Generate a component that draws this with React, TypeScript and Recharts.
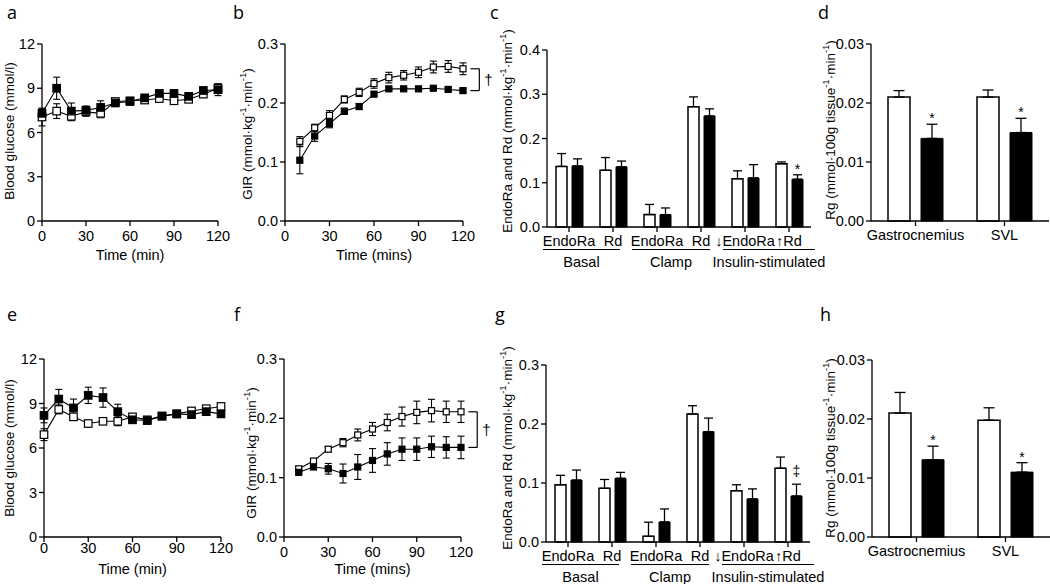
import React from 'react';
import { LineChart, Line, XAxis, YAxis, ErrorBar, BarChart, Bar, ReferenceLine, LabelList } from 'recharts';

const FONT = '"Liberation Sans", Arial, Helvetica, sans-serif';
const LETTER_FONT = '"Open Sans", "Noto Sans", sans-serif';

// ---------------- data ----------------
const TIME_GLUCOSE = [0, 10, 20, 30, 40, 50, 60, 70, 80, 90, 100, 110, 120];
const TIME_GIR = [10, 20, 30, 40, 50, 60, 70, 80, 90, 100, 110, 120];
const TIME_TICKS = [0, 30, 60, 90, 120];

// panel a (blood glucose, top)
const A_OPEN = [7.05, 7.45, 7.1, 7.4, 7.3, 8.1, 8.15, 8.2, 8.3, 8.15, 8.25, 8.6, 9.0];
const A_OPEN_ERR = [0.6, 0.5, 0.3, 0.3, 0.3, 0.2, 0.2, 0.2, 0.2, 0.2, 0.2, 0.2, 0.3];
const A_FILLED = [7.3, 9.0, 7.45, 7.5, 7.7, 8.0, 8.1, 8.35, 8.65, 8.65, 8.45, 8.85, 8.9];
const A_FILLED_ERR = [0.3, 0.75, 0.55, 0.3, 0.45, 0.2, 0.2, 0.2, 0.2, 0.2, 0.2, 0.2, 0.4];

// panel b (GIR, top)
const B_OPEN = [0.135, 0.158, 0.179, 0.206, 0.218, 0.233, 0.243, 0.247, 0.252, 0.261, 0.262, 0.258];
const B_OPEN_ERR = [0.008, 0.006, 0.008, 0.006, 0.007, 0.008, 0.009, 0.008, 0.009, 0.01, 0.01, 0.01];
const B_FILLED = [0.103, 0.144, 0.165, 0.186, 0.194, 0.215, 0.224, 0.224, 0.224, 0.225, 0.223, 0.221];
const B_FILLED_ERR = [0.023, 0.009, 0.007, 0.005, 0.005, 0.003, 0.003, 0.002, 0.002, 0.002, 0.003, 0.003];

// panel e (blood glucose, bottom)
const E_OPEN = [6.9, 8.6, 8.1, 7.65, 7.8, 7.8, 8.1, 7.9, 8.15, 8.3, 8.5, 8.65, 8.8];
const E_OPEN_ERR = [0.4, 0.3, 0.2, 0.2, 0.2, 0.3, 0.2, 0.2, 0.2, 0.2, 0.2, 0.2, 0.2];
const E_FILLED = [8.2, 9.3, 8.7, 9.55, 9.4, 8.45, 7.9, 7.85, 8.15, 8.3, 8.25, 8.45, 8.3];
const E_FILLED_ERR = [0.5, 0.65, 0.6, 0.55, 0.65, 0.5, 0.2, 0.2, 0.2, 0.2, 0.2, 0.2, 0.2];

// panel f (GIR, bottom)
const F_OPEN = [0.115, 0.128, 0.148, 0.159, 0.172, 0.182, 0.193, 0.203, 0.21, 0.213, 0.211, 0.211];
const F_OPEN_ERR = [0.003, 0.003, 0.004, 0.007, 0.01, 0.011, 0.014, 0.016, 0.019, 0.019, 0.018, 0.018];
const F_FILLED = [0.109, 0.118, 0.115, 0.107, 0.118, 0.129, 0.14, 0.148, 0.148, 0.152, 0.151, 0.151];
const F_FILLED_ERR = [0.003, 0.004, 0.009, 0.016, 0.021, 0.02, 0.019, 0.019, 0.019, 0.018, 0.018, 0.019];

// panels c / g (EndoRa and Rd)
const FLUX_LABELS = ['EndoRa', 'Rd', 'EndoRa', 'Rd', '\u2193EndoRa', '\u2191Rd'];
const FLUX_GROUPS = ['Basal', 'Clamp', 'Insulin-stimulated'];
const C_OPEN = [0.137, 0.128, 0.028, 0.272, 0.109, 0.143];
const C_OPEN_ERR = [0.029, 0.029, 0.023, 0.022, 0.018, 0.004];
const C_FILLED = [0.138, 0.136, 0.028, 0.251, 0.111, 0.108];
const C_FILLED_ERR = [0.016, 0.013, 0.015, 0.016, 0.03, 0.01];
const C_SIG = ['', '', '', '', '', '*'];

const G_OPEN = [0.097, 0.091, 0.0096, 0.217, 0.087, 0.125];
const G_OPEN_ERR = [0.016, 0.015, 0.024, 0.014, 0.01, 0.019];
const G_FILLED = [0.105, 0.108, 0.034, 0.187, 0.073, 0.078];
const G_FILLED_ERR = [0.017, 0.01, 0.022, 0.023, 0.017, 0.02];
const G_SIG = ['', '', '', '', '', '\u2021'];

// panels d / h (Rg)
const MUSCLES = ['Gastrocnemius', 'SVL'];
const D_OPEN = [0.021, 0.021];
const D_OPEN_ERR = [0.0011, 0.0012];
const D_FILLED = [0.014, 0.015];
const D_FILLED_ERR = [0.0024, 0.0024];
const D_SIG = ['*', '*'];

const H_OPEN = [0.021, 0.0198];
const H_OPEN_ERR = [0.0035, 0.0021];
const H_FILLED = [0.0131, 0.011];
const H_FILLED_ERR = [0.0023, 0.0016];
const H_SIG = ['*', '*'];

const GLUCOSE_TICKS = [0, 3, 6, 9, 12];
const GIR_TICKS = [0, 0.1, 0.2, 0.3];
const FLUX_TICKS_TOP = [0, 0.1, 0.2, 0.3, 0.4];
const FLUX_TICKS_BOTTOM = [0, 0.1, 0.2, 0.3];
const RG_TICKS = [0, 0.01, 0.02, 0.03];

// ---------------- layout ----------------
const YW = 60;
const MT = 40;
const XH = 60;
const AX = 1.3;
const TICK_FS = 14.5;

type Geo = { x0: number; y0: number; x1: number; y1: number };
const GEO: Record<string, Geo> = {
  a: { x0: 42, y0: 44, x1: 218, y1: 221 },
  b: { x0: 285, y0: 44, x1: 463, y1: 221 },
  c: { x0: 547, y0: 50, x1: 811, y1: 227 },
  d: { x0: 871, y0: 44, x1: 1049, y1: 221 },
  e: { x0: 44, y0: 359, x1: 221, y1: 537 },
  f: { x0: 284, y0: 359, x1: 461, y1: 537 },
  g: { x0: 546, y0: 365, x1: 810, y1: 542 },
  h: { x0: 872, y0: 360, x1: 1050, y1: 537 },
};
const GROUP_PADS: [number, number][] = [[26, 7], [25, 9], [22, 26]];

function frame(g: Geo, mr: number) {
  const pw = g.x1 - g.x0;
  const ph = g.y1 - g.y0;
  return { left: g.x0 - YW, top: g.y0 - MT, width: YW + pw + mr, height: MT + ph + XH, pw, ph };
}

type Seg = [string, boolean];
const GLUCOSE_TITLE: Seg[] = [['Blood glucose (mmol/l)', false]];
const GIR_TITLE: Seg[] = [['GIR (mmol\u00b7kg', false], ['-1', true], ['\u00b7min', false], ['-1', true], [')', false]];
const FLUX_TITLE: Seg[] = [['EndoRa and Rd (mmol\u00b7kg', false], ['-1', true], ['\u00b7min', false], ['-1', true], [')', false]];
const RG_TITLE: Seg[] = [['Rg (mmol\u00b7100g tissue', false], ['-1', true], ['\u00b7min', false], ['-1', true], [')', false]];

function YTitle(props: any) {
  const { px, py, segs } = props;
  return (
    <text x={px} y={py} transform={`rotate(-90 ${px} ${py})`} textAnchor="middle" dominantBaseline="central"
      fontFamily={FONT} fontSize={13.5} fill="#000">
      {(segs as Seg[]).map(([t, sup], i) => {
        const prevSup = i > 0 && segs[i - 1][1];
        if (sup) return <tspan key={i} fontSize={9.5} dy={-5}>{t}</tspan>;
        return <tspan key={i} dy={prevSup ? 5 : 0}>{t}</tspan>;
      })}
    </text>
  );
}

function XTitle(props: any) {
  const { px, py, text } = props;
  return (
    <text x={px} y={py} textAnchor="middle" fontFamily={FONT} fontSize={14.5} fill="#000">{text}</text>
  );
}

const squareDot = (size: number, fill: string, tag: string) => (p: any) => {
  const k = `${tag}-${p.index}`;
  if (p.cx == null || p.cy == null) return <g key={k} />;
  return <rect key={k} x={p.cx - size / 2} y={p.cy - size / 2} width={size} height={size}
    fill={fill} stroke="#000" strokeWidth={1.2} />;
};

const tickStyle = { fill: '#000', fontSize: TICK_FS, fontFamily: FONT };
const axisLineStyle = { stroke: '#000', strokeWidth: AX };

type LineProps = {
  geo: Geo; times: number[]; open: number[]; openErr: number[]; filled: number[]; filledErr: number[];
  yDomain: [number, number]; yTicks: number[]; yFmt: (v: number) => string; ySegs: Seg[]; yDx: number; yDy: number;
  xTitle: string; xTitleDy: number; xTickMargin: number; dotSize: number; bracket?: boolean;
};

function LinePanel(p: LineProps) {
  const mr = 50;
  const f = frame(p.geo, mr);
  const rows = p.times.map((t, i) => ({ t, w: p.open[i], we: p.openErr[i], b: p.filled[i], be: p.filledErr[i] }));
  const lastW = p.open[p.open.length - 1];
  const lastB = p.filled[p.filled.length - 1];
  return (
    <div style={{ position: 'absolute', left: f.left, top: f.top }}>
      <LineChart width={f.width} height={f.height} data={rows} margin={{ top: MT, right: mr, bottom: 0, left: 0 }}>
        <XAxis type="number" dataKey="t" domain={[0, 120]} ticks={TIME_TICKS} interval={0} height={XH}
          tickSize={5} tickMargin={p.xTickMargin} tick={tickStyle}
          axisLine={axisLineStyle} tickLine={axisLineStyle}
          label={<XTitle px={YW + f.pw / 2} py={MT + f.ph + p.xTitleDy} text={p.xTitle} />} />
        <YAxis type="number" domain={p.yDomain} ticks={p.yTicks} interval={0} width={YW} tickFormatter={p.yFmt}
          tickSize={5} tickMargin={2} tick={tickStyle}
          axisLine={axisLineStyle} tickLine={axisLineStyle}
          label={<YTitle px={YW + p.yDx} py={MT + f.ph / 2 + p.yDy} segs={p.ySegs} />} />
        <Line dataKey="w" stroke="#000" strokeWidth={1.1} isAnimationActive={false} activeDot={false}
          dot={squareDot(p.dotSize, '#fff', 'w')}>
          <ErrorBar dataKey="we" direction="y" width={3.5} stroke="#000" strokeWidth={1.1} />
        </Line>
        <Line dataKey="b" stroke="#000" strokeWidth={1.1} isAnimationActive={false} activeDot={false}
          dot={squareDot(p.dotSize, '#000', 'b')}>
          <ErrorBar dataKey="be" direction="y" width={3.5} stroke="#000" strokeWidth={1.1} />
        </Line>
        {p.bracket && (
          <ReferenceLine ifOverflow="visible" stroke="#000" strokeWidth={1.2}
            segment={[{ x: 125, y: lastW }, { x: 131, y: lastW }]} />
        )}
        {p.bracket && (
          <ReferenceLine ifOverflow="visible" stroke="#000" strokeWidth={1.2}
            segment={[{ x: 125, y: lastB }, { x: 131, y: lastB }]} />
        )}
        {p.bracket && (
          <ReferenceLine ifOverflow="visible" stroke="#000" strokeWidth={1.2}
            segment={[{ x: 131, y: lastW }, { x: 131, y: lastB }]}
            label={{ value: '\u2020', position: 'right', offset: 5, fill: '#000', fontSize: 15, fontFamily: FONT }} />
        )}
      </LineChart>
    </div>
  );
}

const makeGroupTick = (labels: string[], groups: string[]) => (props: any) => {
  const { x, y, index, payload } = props;
  const band = payload && payload.offset ? payload.offset * 2 : 44;
  const gi = index % 2 === 0 ? index / 2 : -1;
  const pad = gi >= 0 ? GROUP_PADS[gi] : null;
  const lx1 = pad ? x - pad[0] : 0;
  const lx2 = pad ? x + band + pad[1] : 0;
  return (
    <g key={`gt-${index}`}>
      <text x={x} y={y + 14} textAnchor="middle" fontFamily={FONT} fontSize={TICK_FS} fill="#000">{labels[index]}</text>
      {pad && <line x1={lx1} x2={lx2} y1={y + 17.5} y2={y + 17.5} stroke="#000" strokeWidth={1} />}
      {pad && (
        <text x={(lx1 + lx2) / 2} y={y + 35} textAnchor="middle" fontFamily={FONT} fontSize={TICK_FS} fill="#000">
          {groups[gi]}
        </text>
      )}
    </g>
  );
};

const sigLabel = (sigs: string[], vals: number[], errs: number[]) => (p: any) => {
  const idx = p.index;
  const s = sigs[idx];
  if (!s) return null;
  const vb = p.viewBox && p.viewBox.height != null ? p.viewBox : p;
  const { x, y, width, height } = vb;
  const ppu = Math.abs(height) / vals[idx];
  const top = Math.min(y, y + height) - errs[idx] * ppu;
  const off = s === '*' ? 1 : 8;
  return (
    <text key={`sig-${idx}`} x={x + width / 2} y={top - off} textAnchor="middle" fontFamily={FONT}
      fontSize={14} fill="#000">{s}</text>
  );
};

type BarProps = {
  geo: Geo; cats: string[]; open: number[]; openErr: number[]; filled: number[]; filledErr: number[]; sigs: string[];
  yDomain: [number, number]; yTicks: number[]; yFmt: (v: number) => string; ySegs: Seg[]; yDx: number; yDy: number;
  barSize: number; barGap: number; capW: number; grouped: boolean;
};

function BarPanel(p: BarProps) {
  const mr = 30;
  const f = frame(p.geo, mr);
  const rows = p.cats.map((c, i) => ({ k: p.grouped ? `k${i}` : c, w: p.open[i], we: p.openErr[i], b: p.filled[i], be: p.filledErr[i] }));
  return (
    <div style={{ position: 'absolute', left: f.left, top: f.top }}>
      <BarChart width={f.width} height={f.height} data={rows} margin={{ top: MT, right: mr, bottom: 0, left: 0 }}
        barGap={p.barGap} barSize={p.barSize}>
        <XAxis dataKey="k" interval={0} height={XH} tickSize={5} tickMargin={p.grouped ? 0 : 4}
          tick={p.grouped ? makeGroupTick(p.cats, FLUX_GROUPS) : tickStyle}
          axisLine={axisLineStyle} tickLine={axisLineStyle} />
        <YAxis type="number" domain={p.yDomain} ticks={p.yTicks} interval={0} width={YW} tickFormatter={p.yFmt}
          tickSize={5} tickMargin={2} tick={tickStyle}
          axisLine={axisLineStyle} tickLine={axisLineStyle}
          label={<YTitle px={YW + p.yDx} py={MT + f.ph / 2 + p.yDy} segs={p.ySegs} />} />
        <Bar dataKey="w" barSize={p.barSize} fill="#fff" stroke="#000" strokeWidth={1.5} isAnimationActive={false}>
          <ErrorBar dataKey={(d: any) => [0, d.we]} direction="y" width={p.capW} stroke="#000" strokeWidth={1.3} />
        </Bar>
        <Bar dataKey="b" barSize={p.barSize} fill="#000" stroke="#000" strokeWidth={1} isAnimationActive={false}>
          <ErrorBar dataKey={(d: any) => [0, d.be]} direction="y" width={p.capW} stroke="#000" strokeWidth={1.3} />
          <LabelList dataKey="b" content={sigLabel(p.sigs, p.filled, p.filledErr)} />
        </Bar>
      </BarChart>
    </div>
  );
}

const fmtInt = (v: number) => String(v);
const fmt1 = (v: number) => v.toFixed(1);
const fmt2 = (v: number) => v.toFixed(2);

const LETTERS: [string, number, number][] = [
  ['a', 7, 19], ['b', 233, 19], ['c', 490, 19], ['d', 818, 19],
  ['e', 7, 321], ['f', 234, 321], ['g', 495, 321], ['h', 820, 321],
];

export default function App() {
  return (
    <div style={{ position: 'absolute', left: 0, top: 0, width: 1050, height: 584, overflow: 'hidden', background: '#fff' }}>
      <LinePanel geo={GEO.a} times={TIME_GLUCOSE} open={A_OPEN} openErr={A_OPEN_ERR} filled={A_FILLED} filledErr={A_FILLED_ERR}
        yDomain={[0, 12]} yTicks={GLUCOSE_TICKS} yFmt={fmtInt} ySegs={GLUCOSE_TITLE} yDx={-33.5} yDy={-1.5}
        xTitle="Time (min)" xTitleDy={39} xTickMargin={5} dotSize={7.5} />
      <LinePanel geo={GEO.b} times={TIME_GIR} open={B_OPEN} openErr={B_OPEN_ERR} filled={B_FILLED} filledErr={B_FILLED_ERR}
        yDomain={[0, 0.3]} yTicks={GIR_TICKS} yFmt={fmt1} ySegs={GIR_TITLE} yDx={-38} yDy={1.5}
        xTitle="Time (mins)" xTitleDy={39} xTickMargin={5} dotSize={6} bracket />
      <BarPanel geo={GEO.c} cats={FLUX_LABELS} open={C_OPEN} openErr={C_OPEN_ERR} filled={C_FILLED} filledErr={C_FILLED_ERR}
        sigs={C_SIG} yDomain={[0, 0.4]} yTicks={FLUX_TICKS_TOP} yFmt={fmt1} ySegs={FLUX_TITLE} yDx={-40} yDy={-7.5}
        barSize={11} barGap={5} capW={4.5} grouped />
      <BarPanel geo={GEO.d} cats={MUSCLES} open={D_OPEN} openErr={D_OPEN_ERR} filled={D_FILLED} filledErr={D_FILLED_ERR}
        sigs={D_SIG} yDomain={[0, 0.03]} yTicks={RG_TICKS} yFmt={fmt2} ySegs={RG_TITLE} yDx={-41} yDy={-2.5}
        barSize={22} barGap={11} capW={5.5} grouped={false} />
      <LinePanel geo={GEO.e} times={TIME_GLUCOSE} open={E_OPEN} openErr={E_OPEN_ERR} filled={E_FILLED} filledErr={E_FILLED_ERR}
        yDomain={[0, 12]} yTicks={GLUCOSE_TICKS} yFmt={fmtInt} ySegs={GLUCOSE_TITLE} yDx={-35} yDy={0}
        xTitle="Time (min)" xTitleDy={37} xTickMargin={1} dotSize={7.5} />
      <LinePanel geo={GEO.f} times={TIME_GIR} open={F_OPEN} openErr={F_OPEN_ERR} filled={F_FILLED} filledErr={F_FILLED_ERR}
        yDomain={[0, 0.3]} yTicks={GIR_TICKS} yFmt={fmt1} ySegs={GIR_TITLE} yDx={-33} yDy={5}
        xTitle="Time (mins)" xTitleDy={37} xTickMargin={5} dotSize={6} bracket />
      <BarPanel geo={GEO.g} cats={FLUX_LABELS} open={G_OPEN} openErr={G_OPEN_ERR} filled={G_FILLED} filledErr={G_FILLED_ERR}
        sigs={G_SIG} yDomain={[0, 0.3]} yTicks={FLUX_TICKS_BOTTOM} yFmt={fmt1} ySegs={FLUX_TITLE} yDx={-39} yDy={-5.5}
        barSize={11} barGap={5} capW={4.5} grouped />
      <BarPanel geo={GEO.h} cats={MUSCLES} open={H_OPEN} openErr={H_OPEN_ERR} filled={H_FILLED} filledErr={H_FILLED_ERR}
        sigs={H_SIG} yDomain={[0, 0.03]} yTicks={RG_TICKS} yFmt={fmt2} ySegs={RG_TITLE} yDx={-42} yDy={-0.5}
        barSize={22} barGap={11} capW={5.5} grouped={false} />
      <svg width={1050} height={584} style={{ position: 'absolute', left: 0, top: 0, pointerEvents: 'none' }}>
        {LETTERS.map(([t, x, y]) => (
          <text key={t} x={x} y={y} fontFamily={LETTER_FONT} fontSize={18} fill="#000">{t}</text>
        ))}
      </svg>
    </div>
  );
}
